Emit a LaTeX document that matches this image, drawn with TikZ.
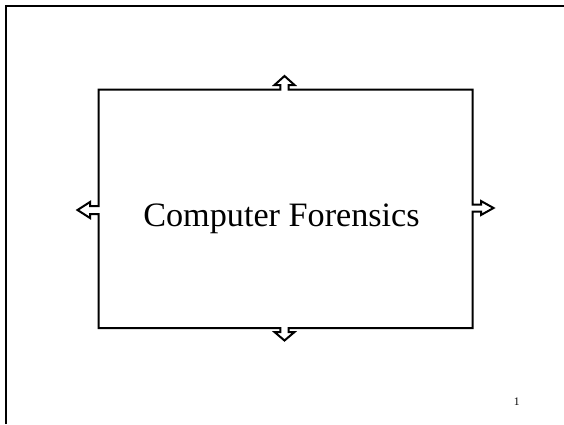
\documentclass[tikz,border=0pt]{standalone}
\usepackage{fontspec}
\setmainfont{Liberation Serif}
\usepackage{tikz}
\usetikzlibrary{positioning}
\tikzstyle{page} = [draw, line width=2.2pt]
\tikzstyle{outline} = [draw, line width=2pt, line join=miter]
\tikzstyle{title} = [inner sep=0pt, font=\fontsize{34.2}{40}\selectfont]
\tikzstyle{pagenum} = [inner sep=0pt, font=\fontsize{11.5}{14}\selectfont]

\begin{document}
\begin{tikzpicture}[x=1pt, y=-1pt]
	\useasboundingbox (0, 0) rectangle (564, 424);
	\coordinate (pbl) at (6, 424);
	\coordinate (ptl) at (6, 6);
	\coordinate (ptr) at (564, 6);
	\path [page] (pbl) -- (ptl) -- (ptr);

	% box with four outward arrows
	\path [outline] (98.5, 89.5) -- (280.3, 89.5) -- (280.3, 85) -- (274.5, 85) -- (284.5, 76)
		-- (294.5, 85) -- (288.7, 85) -- (288.7, 89.5) -- (472.5, 89.5)
		-- (472.5, 204.5) -- (481, 204.5) -- (481, 201) -- (493.5, 208) -- (481, 215)
		-- (481, 211.5) -- (472.5, 211.5) -- (472.5, 328)
		-- (288.7, 328) -- (288.7, 332) -- (294.5, 332) -- (284.5, 340.5) -- (274.5, 332)
		-- (280.3, 332) -- (280.3, 328) -- (98.5, 328)
		-- (98.5, 214) -- (90, 214) -- (90, 218) -- (77.5, 210) -- (90, 202)
		-- (90, 206) -- (98.5, 206) -- cycle;

	\node [title, anchor=base] (title) at (281.5, 226.7) {Computer Forensics};
	\node [pagenum, anchor=base] (num) at (516.7, 405.7) {1};
\end{tikzpicture}
\end{document}
